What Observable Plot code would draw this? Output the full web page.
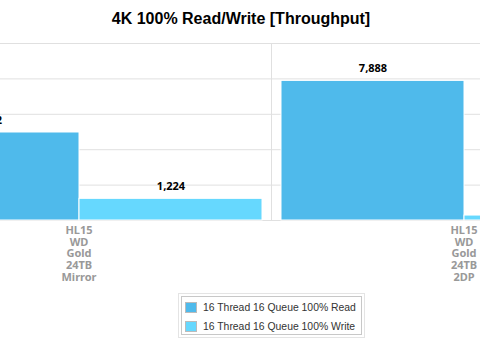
<!DOCTYPE html>
<html><head><meta charset="utf-8">
<script src="https://cdn.jsdelivr.net/npm/d3@7"></script>
<script src="https://cdn.jsdelivr.net/npm/@observablehq/plot@0.6"></script>
<style>
body{margin:0;background:#fff;font-family:"Liberation Sans",Arial,sans-serif;}
#wrap{position:relative;width:480px;height:340px;overflow:hidden;background:#fff;}
#title{height:33px;line-height:37px;text-align:center;font-weight:bold;font-size:16px;color:#000;padding-left:2px;}
#chart{width:480px;overflow:hidden;}
#chart svg{display:block;margin-left:-114.5px;max-width:none !important;width:770px !important;height:252px !important;}
#legend{position:absolute;left:181px;top:296px;width:181px;height:39px;border:1px solid #c8c8c8;outline:1px solid #e4e4e4;outline-offset:2px;box-sizing:border-box;font-size:10.4px;color:#333;padding:1px 0 0 3px;}
.item{display:flex;align-items:center;height:19px;}
.sw{width:12px;height:11px;margin-right:6px;border:1px solid #bbb;box-sizing:border-box;}
</style></head><body>
<div id="wrap"><div id="title">4K 100% Read/Write [Throughput]</div><div id="chart"></div><div id="legend"></div></div>
<script>
const categories = ["HL15 WD Gold 24TB Mirror", "HL15 WD Gold 24TB 2DP"];
const series = ["16 Thread 16 Queue 100% Read", "16 Thread 16 Queue 100% Write"];
const readValues = [4972, 7888];
const writeValues = [1224, 280];
const colors = ["#4fbaeb", "#66d8fe"];
const yTicks = [2000, 4000, 6000, 8000];

const data = categories.flatMap((c, i) => [
  {category: c, series: series[0], value: readValues[i]},
  {category: c, series: series[1], value: writeValues[i]}
]);

const plot = Plot.plot({
  width: 770, height: 252,
  marginLeft: 0, marginRight: 0, marginTop: 10, marginBottom: 65,
  fx: {domain: categories, padding: 0},
  x: {domain: series, paddingInner: 0, paddingOuter: 0.0519, axis: null},
  y: {domain: [0, 10000], axis: null},
  color: {domain: series, range: colors},
  marks: [
    Plot.gridY(yTicks, {stroke: "#e0e0e0", strokeOpacity: 1}),
    Plot.frame({stroke: "#e0e0e0"}),
    Plot.barY(data, {fx: "category", x: "series", y: "value", fill: "series", stroke: "#fff", strokeWidth: 1}),
    Plot.text(data, {fx: "category", x: "series", y: "value", text: d => d3.format(",")(d.value), dy: -12, fontSize: 11, fontWeight: "bold", fill: "#000"}),
    Plot.axisFx({anchor: "bottom", tickSize: 0, tickPadding: 5, tickFormat: d => d.split(" ").join("\n"), fontSize: 11, fontWeight: "bold", color: "#999", lineHeight: 1.07, label: null})
  ]
});
document.getElementById("chart").appendChild(plot);

const legend = document.getElementById("legend");
series.forEach((s, i) => {
  const item = document.createElement("div");
  item.className = "item";
  const sw = document.createElement("span");
  sw.className = "sw";
  sw.style.background = colors[i];
  const t = document.createElement("span");
  t.textContent = s;
  item.appendChild(sw); item.appendChild(t);
  legend.appendChild(item);
});
</script>
</body></html>
